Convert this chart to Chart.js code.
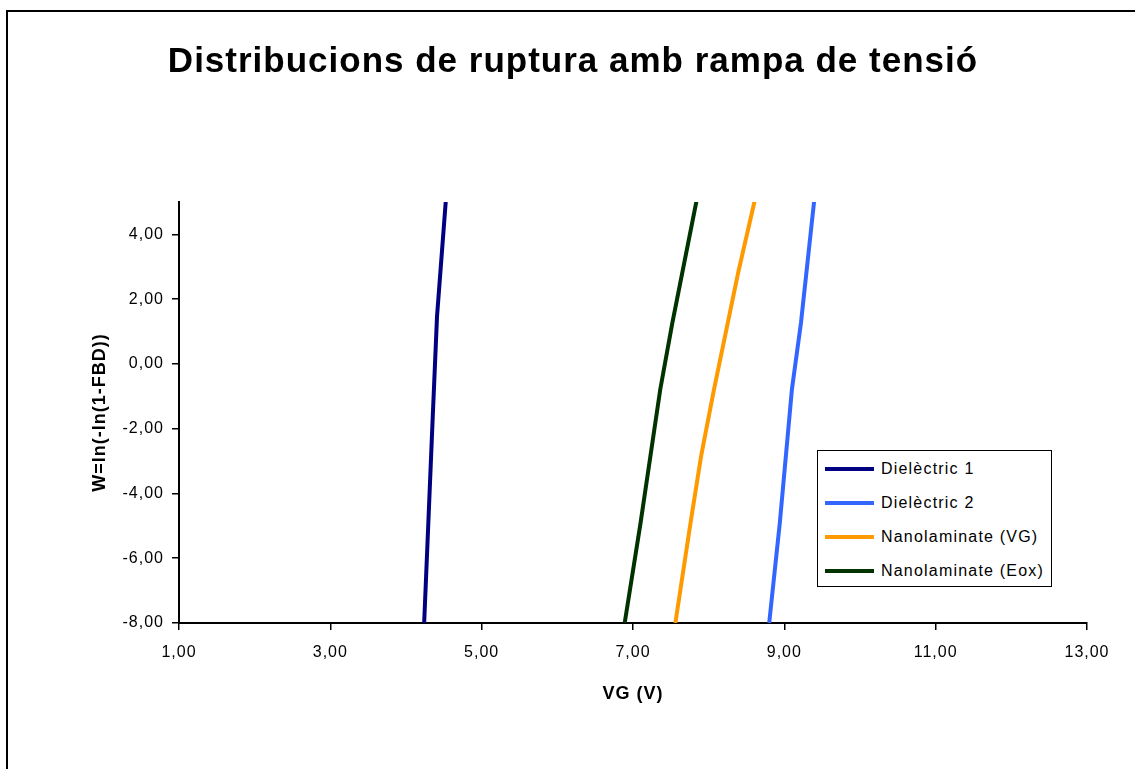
<!DOCTYPE html>
<html>
<head>
<meta charset="utf-8">
<script src="https://cdn.jsdelivr.net/npm/chart.js@4.4.0/dist/chart.umd.min.js"></script>
<style>
  body { margin: 0; background: #fff; font-family: "Liberation Sans", Arial, sans-serif; }
  #wrap { position: relative; width: 1135px; height: 769px; overflow: hidden; }
  #frame { position: absolute; left: 6px; top: 10px; width: 1200px; height: 900px;
           border-left: 2px solid #000; border-top: 2px solid #000; pointer-events: none; }
  #legend { position: absolute; left: 817px; top: 450px; width: 235px; height: 137px;
            border: 1.5px solid #000; background: #fff; box-sizing: border-box; }
  .item { position: absolute; left: 7px; height: 20px; display: flex; align-items: center;
          font-size: 16px; letter-spacing: 1.2px; color: #000; white-space: nowrap; }
  .swatch { width: 49px; height: 4px; margin-right: 7px; }
</style>
</head>
<body>
<div id="wrap">
  <canvas id="chart" width="1135" height="769"></canvas>
  <div id="frame"></div>
  <div id="legend"></div>
</div>
<script>
// VG (V), bottom to top
const diel1VG = [4.24, 4.35, 4.41, 4.53];
const diel1W  = [-8.0, -1.82, 1.47, 5.16];
const diel2VG = [8.80, 8.94, 9.10, 9.22, 9.40];
const diel2W  = [-8.0, -4.91, -0.79, 1.27, 5.16];
const nanoVgVG = [7.56, 7.76, 7.90, 8.07, 8.39, 8.62];
const nanoVgW  = [-8.0, -4.91, -2.85, -0.79, 2.82, 5.16];
const nanoEoxVG = [6.89, 7.10, 7.36, 7.52, 7.85];
const nanoEoxW  = [-8.0, -4.91, -0.79, 1.27, 5.16];

const seriesNames = ['Dielèctric 1', 'Dielèctric 2', 'Nanolaminate (VG)', 'Nanolaminate (Eox)'];
const seriesColors = ['#000080', '#3366FF', '#FF9900', '#003300'];

const xTicks = [1, 3, 5, 7, 9, 11, 13];
const yTicks = [-8, -6, -4, -2, 0, 2, 4];

const FONT = '"Liberation Sans", Arial, sans-serif';
const fmt = v => v.toFixed(2).replace('.', ',');
const pts = (xs, ys) => xs.map((x, i) => ({x: x, y: ys[i]}));

const allSeries = [
  pts(diel1VG, diel1W),
  pts(diel2VG, diel2W),
  pts(nanoVgVG, nanoVgW),
  pts(nanoEoxVG, nanoEoxW)
];

// the original text is drawn a bit wider than Arial, so space the letters
const spacing = {
  id: 'spacing',
  beforeLayout(c) { c.ctx.letterSpacing = '1px'; },
  beforeDraw(c) { c.ctx.letterSpacing = '1px'; }
};

const chart = new Chart(document.getElementById('chart'), {
  type: 'scatter',
  data: {
    datasets: allSeries.map((d, i) => ({
      label: seriesNames[i],
      data: d,
      showLine: true,
      borderColor: seriesColors[i],
      backgroundColor: seriesColors[i],
      borderWidth: 4,
      pointRadius: 0,
      tension: 0
    }))
  },
  options: {
    responsive: false,
    animation: false,
    layout: { padding: { left: 59, right: 48, top: 0, bottom: 0 } },
    plugins: {
      legend: { display: false },
      tooltip: { enabled: false },
      title: {
        display: true,
        text: 'Distribucions de ruptura amb rampa de tensió',
        color: '#000',
        font: { family: FONT, size: 35, weight: 'bold' },
        padding: { top: 41, bottom: 119 }
      }
    },
    scales: {
      x: {
        type: 'linear',
        min: 1, max: 13,
        afterBuildTicks: s => { s.ticks = xTicks.map(v => ({value: v})); },
        afterFit: s => { s.height = 146; },
        grid: { drawOnChartArea: false, color: '#000', lineWidth: 1.5, tickLength: 7 },
        border: { color: '#000', width: 2 },
        ticks: { color: '#000', padding: 13, font: { family: FONT, size: 16 }, callback: v => fmt(v), maxRotation: 0 },
        title: { display: true, text: 'VG (V)', color: '#000',
                 font: { family: FONT, size: 18, weight: 'bold' }, padding: { bottom: 64 } }
      },
      y: {
        type: 'linear',
        min: -8, max: 5,
        afterBuildTicks: s => { s.ticks = yTicks.map(v => ({value: v})); },
        afterFit: s => { s.width = 120; },
        grid: { drawOnChartArea: false, color: '#000', lineWidth: 1.5, tickLength: 7 },
        border: { color: '#000', width: 2 },
        ticks: { color: '#000', padding: 8, font: { family: FONT, size: 16 }, callback: v => fmt(v) },
        title: { display: true, text: 'W=ln(-ln(1-FBD))', color: '#000',
                 font: { family: FONT, size: 18, weight: 'bold' }, padding: { top: 30 } }
      }
    }
  },
  plugins: [spacing]
});

// legend box inside the plot, built from the datasets
const legend = document.getElementById('legend');
chart.data.datasets.forEach((ds, i) => {
  const item = document.createElement('div');
  item.className = 'item';
  item.style.top = (8 + i * 34) + 'px';
  const sw = document.createElement('span');
  sw.className = 'swatch';
  sw.style.background = ds.borderColor;
  item.appendChild(sw);
  item.appendChild(document.createTextNode(ds.label));
  legend.appendChild(item);
});
</script>
</body>
</html>
